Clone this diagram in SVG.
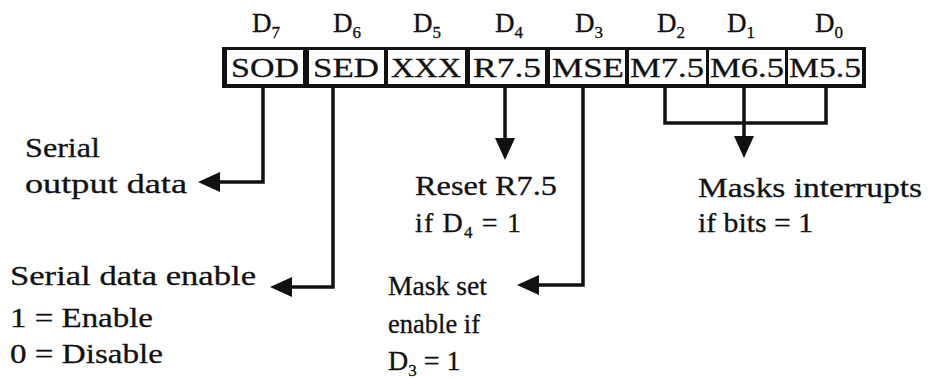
<svg xmlns="http://www.w3.org/2000/svg" width="928" height="379" viewBox="0 0 928 379">
<style>
  text { font-family: "Liberation Serif", "Times New Roman", serif; fill: #111; stroke: #111; stroke-width: 0.3; }
  .lbl { font-size: 28px; }
  .bit { font-size: 27px; text-anchor: middle; }
  .cell { font-size: 28px; text-anchor: middle; }
  .sub { font-size: 17px; }
  .wire { fill: none; stroke: #111; stroke-width: 3.5; stroke-linejoin: miter; }
  .cellbg { fill: #fff; }
</style>
<defs>
  <marker id="ah" viewBox="0 0 22 20" refX="0" refY="10" markerWidth="22" markerHeight="20" markerUnits="userSpaceOnUse" orient="auto">
    <path d="M0,0 L22,10 L0,20 z" fill="#111"/>
  </marker>
</defs>
<rect width="928" height="379" fill="#fff"/>

<g id="bit-labels">
  <text class="bit" x="266" y="32">D<tspan class="sub" dy="6">7</tspan></text>
  <text class="bit" x="347" y="32">D<tspan class="sub" dy="6">6</tspan></text>
  <text class="bit" x="427" y="32">D<tspan class="sub" dy="6">5</tspan></text>
  <text class="bit" x="509" y="32">D<tspan class="sub" dy="6">4</tspan></text>
  <text class="bit" x="589" y="32">D<tspan class="sub" dy="6">3</tspan></text>
  <text class="bit" x="671" y="32">D<tspan class="sub" dy="6">2</tspan></text>
  <text class="bit" x="741" y="32">D<tspan class="sub" dy="6">1</tspan></text>
  <text class="bit" x="829" y="32">D<tspan class="sub" dy="6">0</tspan></text>
</g>

<g id="register">
  <rect x="222" y="47" width="644" height="41" fill="#111"/>
  <g id="cell-sod"><rect class="cellbg" x="227" y="50" width="76" height="34"/><text class="cell" x="265" y="77" textLength="68" lengthAdjust="spacingAndGlyphs">SOD</text></g>
  <g id="cell-sed"><rect class="cellbg" x="309" y="50" width="75" height="34"/><text class="cell" x="346" y="77" textLength="66" lengthAdjust="spacingAndGlyphs">SED</text></g>
  <g id="cell-xxx"><rect class="cellbg" x="388" y="50" width="77" height="34"/><text class="cell" x="426" y="77" textLength="70" lengthAdjust="spacingAndGlyphs">XXX</text></g>
  <g id="cell-r75"><rect class="cellbg" x="470" y="50" width="75" height="34"/><text class="cell" x="507" y="77" textLength="68" lengthAdjust="spacingAndGlyphs">R7.5</text></g>
  <g id="cell-mse"><rect class="cellbg" x="550" y="50" width="75" height="34"/><text class="cell" x="588" y="77" textLength="72" lengthAdjust="spacingAndGlyphs">MSE</text></g>
  <g id="cell-m75"><rect class="cellbg" x="629" y="50" width="77" height="34"/><text class="cell" x="667" y="77" textLength="74" lengthAdjust="spacingAndGlyphs">M7.5</text></g>
  <g id="cell-m65"><rect class="cellbg" x="709" y="50" width="76" height="34"/><text class="cell" x="747" y="77" textLength="74" lengthAdjust="spacingAndGlyphs">M6.5</text></g>
  <g id="cell-m55"><rect class="cellbg" x="788" y="50" width="74" height="34"/><text class="cell" x="825" y="77" textLength="72" lengthAdjust="spacingAndGlyphs">M5.5</text></g>
</g>

<g id="connectors">
  <path class="wire" d="M263,88 V182 H220" marker-end="url(#ah)"/>
  <path class="wire" d="M333,88 V287 H292" marker-end="url(#ah)"/>
  <path class="wire" d="M505,88 V138" marker-end="url(#ah)"/>
  <path class="wire" d="M583,88 V285 H539" marker-end="url(#ah)"/>
  <path class="wire" d="M665,88 V123 H826 V88"/>
  <path class="wire" d="M744,88 V136" marker-end="url(#ah)"/>
</g>

<g id="note-sod">
  <text class="lbl" x="25" y="157" textLength="75" lengthAdjust="spacingAndGlyphs">Serial</text>
  <text class="lbl" x="25" y="193" textLength="162" lengthAdjust="spacingAndGlyphs">output data</text>
</g>
<g id="note-sed">
  <text class="lbl" x="10" y="285" textLength="246" lengthAdjust="spacingAndGlyphs">Serial data enable</text>
  <text class="lbl" x="10" y="327" textLength="143" lengthAdjust="spacingAndGlyphs">1 = Enable</text>
  <text class="lbl" x="10" y="363" textLength="153" lengthAdjust="spacingAndGlyphs">0 = Disable</text>
</g>
<g id="note-r75">
  <text class="lbl" x="415" y="195" textLength="142" lengthAdjust="spacingAndGlyphs">Reset R7.5</text>
  <text class="lbl" x="415" y="232" textLength="106" lengthAdjust="spacing">if D<tspan class="sub" dy="6">4</tspan><tspan dy="-6"> = 1</tspan></text>
</g>
<g id="note-mse">
  <text class="lbl" x="388" y="295" textLength="99" lengthAdjust="spacingAndGlyphs">Mask set</text>
  <text class="lbl" x="388" y="333" textLength="92" lengthAdjust="spacingAndGlyphs">enable if</text>
  <text class="lbl" x="388" y="370">D<tspan class="sub" dy="6">3</tspan><tspan dy="-6"> = 1</tspan></text>
</g>
<g id="note-masks">
  <text class="lbl" x="698" y="197" textLength="224" lengthAdjust="spacingAndGlyphs">Masks interrupts</text>
  <text class="lbl" x="698" y="232" textLength="115" lengthAdjust="spacingAndGlyphs">if bits = 1</text>
</g>
</svg>
